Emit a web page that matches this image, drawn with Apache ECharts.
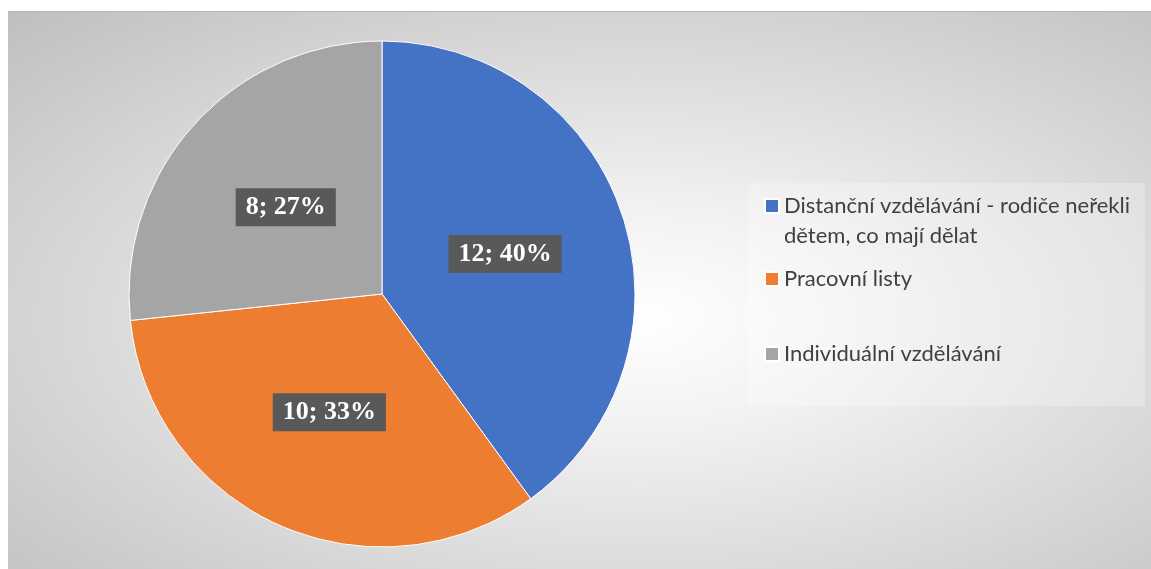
<!DOCTYPE html>
<html>
<head>
<meta charset="utf-8">
<script src="https://cdn.jsdelivr.net/npm/echarts@6/dist/echarts.min.js"></script>
<style>
  html, body { margin: 0; padding: 0; background: #ffffff; }
  #chart {
    position: absolute;
    left: 8px;
    top: 11px;
    width: 1143px;
    height: 558px;
    border-top: 1px solid #b8b8b8;
    box-sizing: border-box;
    background: radial-gradient(ellipse farthest-corner at 55% 55%, #ffffff 0%, #f2f2f2 25%, #bfbfbf 100%);
  }
</style>
</head>
<body>
<div id="chart"></div>
<script>
// data
var categories = ['Distanční vzdělávání - rodiče neřekli dětem, co mají dělat', 'Pracovní listy', 'Individuální vzdělávání'];
// first line blank so the marker lines up with the first text line
var legendText = [' \nDistanční vzdělávání - rodiče neřekli\ndětem, co mají dělat', 'Pracovní listy', 'Individuální vzdělávání'];
var values = [12, 10, 8];
var colors = ['#4472C4', '#ED7D31', '#A5A5A5'];

var chart = echarts.init(document.getElementById('chart'));

var legendTops = [149, 252, 327];

var legends = categories.map(function (name, i) {
  return {
    orient: 'vertical',
    left: 756,
    top: legendTops[i],
    padding: 0,
    itemWidth: 14,
    itemHeight: 14,
    itemGap: 0,
    icon: 'rect',
    selectedMode: false,
    data: [name],
    formatter: function () { return legendText[i]; },
    textStyle: {
      color: '#404040',
      fontFamily: 'Lato',
      fontSize: 22,
      lineHeight: 30
    }
  };
});

var option = {
  animation: false,
  color: colors,
  graphic: [{
    type: 'rect',
    z: -1,
    shape: { x: 740, y: 171, width: 397, height: 223 },
    style: { fill: 'rgba(255,255,255,0.25)' }
  }],
  legend: legends,
  series: [{
    type: 'pie',
    center: [374, 282],
    radius: [0, 253],
    startAngle: 90,
    clockwise: true,
    itemStyle: { borderColor: '#ffffff', borderWidth: 1 },
    label: {
      show: true,
      position: 'inside',
      formatter: function (p) { return p.value + '; ' + Math.round(p.percent) + '%'; },
      color: '#ffffff',
      fontFamily: 'Liberation Serif',
      fontWeight: 'bold',
      fontSize: 26,
      lineHeight: 26,
      backgroundColor: '#595959',
      padding: [6, 10, 6, 10]
    },
    labelLine: { show: false },
    emphasis: { disabled: true },
    data: categories.map(function (name, i) {
      return { name: name, value: values[i] };
    })
  }]
};

chart.setOption(option);
</script>
</body>
</html>
